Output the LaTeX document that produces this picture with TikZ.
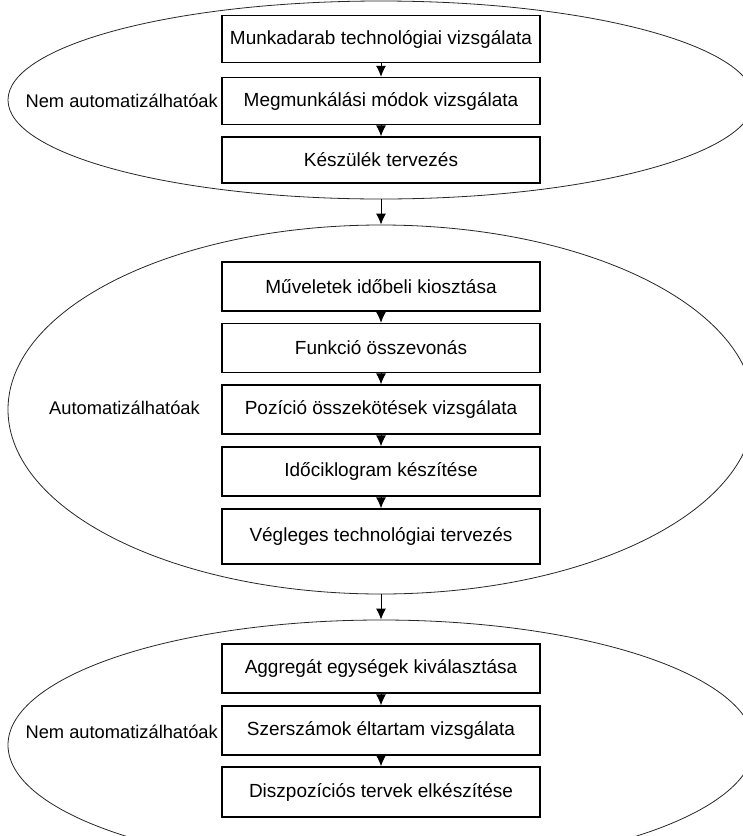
\documentclass[tikz,border=0pt]{standalone}
\usepackage{fontspec}
\setmainfont{Liberation Sans}
\usetikzlibrary{shapes.geometric,arrows.meta}
\tikzset{
  stepbox/.style={draw=black, line width=1.3pt, fill=white, minimum width=318pt, inner sep=0pt,
    font=\fontsize{19}{21}\selectfont},
  grp/.style={draw=black!85, line width=0.8pt, ellipse, inner sep=0pt, minimum width=746pt},
  lbl/.style={anchor=east, inner sep=0pt, font=\fontsize{18.3}{20}\selectfont},
  flow/.style={line width=1pt, -{Latex[length=11pt,width=10pt,fill=black]}}
}
\begin{document}
\begin{tikzpicture}[x=1pt,y=-1pt]
\useasboundingbox (0,0) rectangle (743,836);
\clip (0,0) rectangle (743,836);
% groups
\node[grp, minimum height=198pt] (e1) at (381,100) {};
\node[grp, minimum height=369pt] (e2) at (381,409.5) {};
\node[grp, minimum height=250pt] (e3) at (381,745) {};
% top group
\node[stepbox, minimum height=47pt] (a1) at (381,39) {Munkadarab technológiai vizsgálata};
\node[stepbox, minimum height=47pt] (a2) at (381,101) {Megmunkálási módok vizsgálata};
\node[stepbox, minimum height=46pt] (a3) at (381,160) {Készülék tervezés};
\node[lbl] (l1) at (218,101) {Nem automatizálhatóak};
% middle group
\node[stepbox, minimum height=49pt] (b1) at (381,286.5) {Műveletek időbeli kiosztása};
\node[stepbox, minimum height=49pt] (b2) at (381,348) {Funkció összevonás};
\node[stepbox, minimum height=49pt] (b3) at (381,409.5) {Pozíció összekötések vizsgálata};
\node[stepbox, minimum height=49pt] (b4) at (381,471.5) {Időciklogram készítése};
\node[stepbox, minimum height=55pt] (b5) at (381,536.5) {Végleges technológiai tervezés};
\node[lbl] (l2) at (200,408) {Automatizálhatóak};
% bottom group
\node[stepbox, minimum height=49pt] (c1) at (381,668.5) {Aggregát egységek kiválasztása};
\node[stepbox, minimum height=49pt] (c2) at (381,730.5) {Szerszámok éltartam vizsgálata};
\node[stepbox, minimum height=50pt] (c3) at (381,792) {Diszpozíciós tervek elkészítése};
\node[lbl] (l3) at (218,732) {Nem automatizálhatóak};
% connectors
\draw[flow] (a1) -- (a2);
\draw[flow] (a2) -- (a3);
\draw[flow] (e1.south) -- (e2.north);
\draw[flow] (b1) -- (b2);
\draw[flow] (b2) -- (b3);
\draw[flow] (b3) -- (b4);
\draw[flow] (b4) -- (b5);
\draw[flow] (e2.south) -- (e3.north);
\draw[flow] (c1) -- (c2);
\draw[flow] (c2) -- (c3);
\end{tikzpicture}
\end{document}
